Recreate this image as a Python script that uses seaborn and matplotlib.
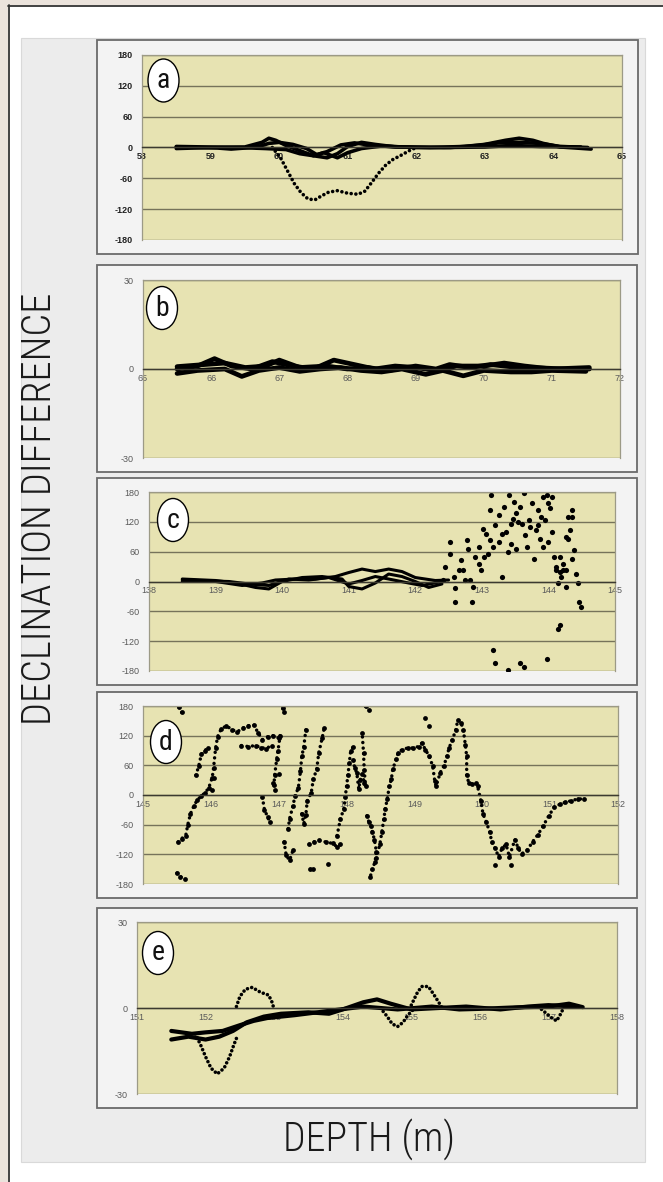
import matplotlib
matplotlib.use('Agg')
import matplotlib.pyplot as plt
import seaborn as sns
import pandas as pd
from matplotlib import font_manager
from matplotlib.patches import Rectangle, Ellipse
from matplotlib.lines import Line2D

# ---- data: (depth m, declination difference deg) ----

# panel a
a_xticks = [58, 59, 60, 61, 62, 63, 64, 65]
a_yticks = [-180, -120, -60, 0, 60, 120, 180]
a_trace1 = [(58.50, 1), (58.80, 0), (59.10, -1), (59.30, -3), (59.50, -1), (59.70, 2), (59.85, 8),
            (60.00, 10), (60.20, 6), (60.40, -2), (60.55, -14), (60.70, -8), (60.90, 5), (61.10, 9),
            (61.30, 5), (61.60, 2), (62.00, 0), (62.50, 0), (62.90, 4), (63.20, 9), (63.50, 10),
            (63.80, 8), (64.10, 2), (64.50, 0)]
a_trace2 = [(58.50, -2), (59.00, 0), (59.50, 1), (59.75, 10), (59.85, 18), (59.95, 14), (60.10, 4),
            (60.30, -6), (60.50, -16), (60.70, -20), (60.85, -12), (61.00, 2), (61.20, 10), (61.40, 6),
            (61.70, 1), (62.20, 0), (62.70, 2), (63.00, 6), (63.30, 14), (63.50, 18), (63.70, 14),
            (63.85, 8), (64.10, 1), (64.55, -3)]
a_trace3 = [(58.50, 2), (59.40, 0), (59.80, -2), (60.10, -4), (60.30, -12), (60.50, -16), (60.65, -10),
            (60.85, -20), (61.00, -10), (61.20, -2), (61.50, 3), (61.80, 1), (62.40, 0), (63.00, 1),
            (63.40, 4), (63.80, 2), (64.40, 1)]
a_dip = [(59.90, 0), (60.02, -20), (60.12, -45), (60.22, -70), (60.32, -88), (60.42, -100),
         (60.52, -102), (60.62, -94), (60.72, -87), (60.85, -84), (61.00, -89), (61.15, -91),
         (61.25, -85), (61.35, -68), (61.45, -50), (61.55, -35), (61.65, -24), (61.78, -15),
         (61.90, -6), (62.00, 0)]

# panel b
b_xticks = [65, 66, 67, 68, 69, 70, 71, 72]
b_yticks = [-30, 0, 30]
b_trace1 = [(65.50, 0), (65.80, 1), (66.05, 3.5), (66.30, 1), (66.60, 0), (66.90, 2.5), (67.20, 1),
            (67.50, 0), (67.80, 3), (68.10, 1.5), (68.40, 0), (68.70, 1), (69.00, 0.5), (69.30, -0.5),
            (69.60, 1), (70.00, 1), (70.30, 2), (70.60, 1), (71.00, 0), (71.55, 0.5)]
b_trace2 = [(65.50, -1.5), (65.80, -0.5), (66.20, 0), (66.45, -2.5), (66.70, -0.5), (67.00, 0.5),
            (67.30, -0.8), (67.60, 0), (67.90, 0.5), (68.20, -0.5), (68.50, -1), (68.80, 0),
            (69.15, -1.8), (69.40, -0.5), (69.70, -2.3), (70.00, -0.5), (70.40, -1), (70.70, -1),
            (71.00, -0.5), (71.50, -0.8)]
b_trace3 = [(65.50, 0.8), (65.90, 1.5), (66.20, 2), (66.50, 0.5), (66.80, 1), (67.00, 3), (67.30, 0.5),
            (67.70, 1), (68.00, 0), (68.30, 0.5), (68.60, -0.5), (69.00, 1), (69.30, 0), (69.50, 1.5),
            (69.80, 0.5), (70.10, 1.5), (70.50, 0.5), (70.90, 0.3), (71.20, 0), (71.55, 0)]

# panel c
c_xticks = [138, 139, 140, 141, 142, 143, 144, 145]
c_yticks = [-180, -120, -60, 0, 60, 120, 180]
c_trace1 = [(138.5, 5), (139.0, 2), (139.3, -3), (139.6, -12), (139.8, -15), (140.0, 0), (140.3, 8),
            (140.6, 10), (140.9, 5), (141.0, -10), (141.2, -15), (141.4, -3), (141.6, 15), (141.8, 10),
            (142.0, 0), (142.2, -12), (142.4, -5)]
c_trace2 = [(138.5, 0), (139.0, 0), (139.4, -8), (139.7, -3), (139.9, 3), (140.2, 5), (140.5, 5),
            (140.8, 10), (141.0, 18), (141.2, 25), (141.4, 20), (141.6, 25), (141.8, 20), (142.0, 8),
            (142.3, 2), (142.5, 3)]
c_trace3 = [(138.5, 3), (139.2, 0), (139.5, -5), (139.8, -8), (140.1, 5), (140.4, 3), (140.7, 8),
            (141.0, -5), (141.2, 2), (141.4, 10), (141.6, 5), (141.9, -3), (142.1, -8), (142.4, 0)]
c_scatter = [(142.52, 80), (142.52, 56), (142.44, 29), (142.42, 3), (142.60, -14), (142.60, -41),
             (142.66, 23), (142.68, 43), (142.77, 83), (142.79, 66), (142.82, 3), (142.85, -41),
             (142.87, -11), (142.90, 50), (142.95, 70), (142.98, 23), (143.01, 106), (143.06, 96),
             (143.09, 56), (143.14, 173), (143.12, 143), (143.17, 70), (143.20, 113), (143.25, 133),
             (143.30, 9), (143.33, 150), (143.36, 100), (143.41, 173), (143.44, 76), (143.47, 126),
             (143.49, 160), (143.52, 137), (143.55, 120), (143.57, 150), (143.60, 116), (143.63, 177),
             (143.65, 93), (143.68, 70), (143.71, 123), (143.76, 157), (143.79, 46), (143.82, 103),
             (143.84, 143), (143.87, 86), (143.92, 170), (143.95, 123), (143.98, 173), (144.00, 80),
             (144.03, 147), (144.06, 100), (144.09, 50), (144.11, 23), (144.14, -4), (144.17, -88),
             (144.14, -96), (144.19, 9), (144.22, 36), (144.27, 90), (144.30, 130), (144.35, 143),
             (144.33, 103), (144.38, 63), (144.41, 16), (144.44, -4), (144.46, -41), (144.49, -51),
             (144.35, 46), (144.27, -11), (143.17, -138), (143.20, -164), (143.39, -178),
             (143.57, -164), (143.63, -171), (143.98, -155), (143.03, 50), (142.95, 36), (142.71, 23),
             (142.74, 3), (142.58, 9), (143.12, 83), (143.25, 80), (143.39, 60), (143.52, 66),
             (143.30, 96), (143.44, 116), (143.73, 110), (143.84, 113), (143.89, 130), (143.92, 70),
             (144.00, 157), (144.06, 170), (144.11, 29), (144.17, 20), (144.22, 23), (144.27, 23),
             (144.17, 50), (144.30, 86), (144.35, 130)]

# panel d
d_xticks = [145, 146, 147, 148, 149, 150, 151, 152]
d_yticks = [-180, -120, -60, 0, 60, 120, 180]
d_seg1 = [(145.50, -158), (145.55, -165), (145.62, -170)]
d_seg2 = [(145.53, 177), (145.57, 167)]
d_seg3 = [(145.52, -95), (145.57, -88), (145.63, -82), (145.66, -60), (145.70, -38), (145.75, -22),
          (145.80, -10), (145.86, -2), (145.92, 5), (145.97, 15), (146.02, 35), (146.04, 55),
          (146.07, 95), (146.10, 118), (146.15, 133), (146.23, 140), (146.31, 132), (146.39, 128),
          (146.47, 135), (146.55, 140), (146.63, 142), (146.70, 125), (146.76, 112), (146.84, 118),
          (146.92, 120), (147.00, 115)]
d_seg4 = [(145.78, 40), (145.82, 58), (145.86, 82), (145.91, 90), (145.96, 95)]
d_seg5 = [(146.45, 100), (146.55, 98), (146.66, 100), (146.74, 96), (146.81, 94), (146.90, 100)]
d_seg6 = [(147.06, 175), (147.08, 168)]
d_seg7 = [(147.02, 120), (146.99, 90), (146.97, 72), (146.94, 40), (146.93, 20), (146.95, 10)]
d_seg8 = [(146.76, -5), (146.79, -30), (146.84, -45), (146.87, -55)]
d_seg9 = [(147.08, -95), (147.11, -122), (147.16, -132), (147.21, -112)]
d_seg10 = [(147.14, -68), (147.16, -48), (147.21, -22), (147.24, -2), (147.29, 15), (147.32, 48),
           (147.34, 78), (147.37, 98), (147.40, 132)]
d_seg11 = [(147.46, -150), (147.51, -150)]
d_seg12 = [(147.34, -38), (147.37, -58), (147.40, -40), (147.42, -12), (147.48, 5), (147.51, 32),
           (147.56, 52), (147.59, 85), (147.64, 115), (147.67, 135)]
d_seg13 = [(147.45, -100), (147.52, -95), (147.59, -92), (147.69, -95), (147.80, -98), (147.86, -105),
           (147.91, -100)]
d_seg14 = [(147.86, -82), (147.91, -48), (147.96, -28), (147.98, -5), (148.00, 18), (148.02, 40),
           (148.04, 65), (148.06, 88), (148.10, 98)]
d_seg15 = [(148.10, 70), (148.12, 55), (148.15, 45), (148.18, 12), (148.20, 30), (148.23, 42),
           (148.26, 25), (148.28, 18), (148.26, 50), (148.25, 85), (148.23, 125)]
d_seg16 = [(148.28, 179), (148.33, 172)]
d_seg17 = [(148.30, -42), (148.33, -55), (148.36, -62), (148.38, -75), (148.41, -90), (148.44, -115),
           (148.42, -135), (148.38, -150), (148.35, -165)]
d_seg18 = [(148.44, -128), (148.49, -100), (148.52, -75), (148.55, -48), (148.57, -28), (148.60, -8),
           (148.63, 18), (148.66, 32), (148.68, 52), (148.73, 72), (148.76, 85), (148.82, 92),
           (148.90, 95), (148.98, 95), (149.06, 98), (149.11, 105), (149.16, 92), (149.22, 78),
           (149.27, 58), (149.30, 28), (149.32, 18), (149.38, 45), (149.43, 58), (149.48, 78),
           (149.51, 95), (149.56, 112), (149.61, 132), (149.64, 152), (149.69, 145), (149.72, 132),
           (149.75, 102), (149.77, 78), (149.77, 40), (149.80, 25), (149.85, 22), (149.90, 25),
           (149.93, 18), (149.98, -12), (150.01, -38), (150.06, -55), (150.11, -75), (150.14, -95),
           (150.19, -108), (150.24, -125), (150.29, -108), (150.35, -100), (150.40, -125),
           (150.48, -90), (150.53, -108), (150.58, -119), (150.66, -112), (150.74, -95),
           (150.82, -80), (150.90, -62), (150.98, -42), (151.06, -25), (151.14, -19), (151.22, -15),
           (151.30, -12), (151.41, -8), (151.50, -8)]
d_single = [(149.16, 155), (149.22, 140), (150.19, -142), (150.42, -142), (147.72, -140),
            (146.04, 35), (146.02, 11), (147.00, 42), (146.92, 25)]

# panel e
e_xticks = [151, 152, 153, 154, 155, 156, 157, 158]
e_yticks = [-30, 0, 30]
e_trace1 = [(151.50, -8), (151.80, -9), (152.00, -8.5), (152.25, -8), (152.50, -6), (152.70, -4.5),
            (152.90, -3.5), (153.30, -2.5), (153.80, -1), (154.30, 0.5), (154.80, -0.5), (155.30, 0.5),
            (155.70, -0.5), (156.00, -0.3), (156.50, 0.2), (157.00, 0.5), (157.30, 1.5), (157.50, 0.3)]
e_trace2 = [(151.50, -11), (151.75, -10), (152.00, -11), (152.20, -10), (152.40, -8), (152.60, -5),
            (152.85, -3), (153.10, -2), (153.50, -1.5), (153.80, -2), (154.00, -0.5), (154.30, 2),
            (154.50, 3), (154.70, 1.5), (155.00, -0.5), (155.40, 0), (155.80, 0.5), (156.30, -0.5),
            (156.70, 0.5), (157.00, 1), (157.40, 0.5)]
e_up = [(152.45, 0.5), (152.50, 4), (152.58, 6.5), (152.68, 7.2), (152.80, 5.5), (152.92, 4.5),
        (152.97, 2), (153.00, -0.5)]
e_dip = [(151.85, -9), (151.93, -13), (152.00, -17), (152.08, -21), (152.17, -23), (152.27, -21),
         (152.35, -17), (152.41, -13), (152.46, -10)]
e_dip2 = [(154.55, 0), (154.65, -3), (154.72, -5.5), (154.80, -6.5), (154.88, -5), (154.95, -2.5),
          (155.05, 0)]
e_up2 = [(155.00, 1), (155.08, 5), (155.15, 7.5), (155.25, 7.5), (155.32, 5), (155.40, 2), (155.45, 0)]
e_dip3 = [(156.85, 0.5), (156.95, -1.5), (157.05, -3.5), (157.12, -4.5), (157.18, -2), (157.22, 0)]

# ---- drawing ----
W, H = 663, 1182
YELLOW = '#e7e3b2'
GRID = '#76735a'

sns.set_theme(style='white')
plt.rcParams['font.family'] = ['Liberation Sans', 'DejaVu Sans']
plt.rcParams['axes.unicode_minus'] = False

# pick a narrow / light face for the big titles if one is installed
names = {f.name for f in font_manager.fontManager.ttflist}
light_weights = {f.name for f in font_manager.fontManager.ttflist
                 if f.weight in (200, 300, 'light', 'extra-light')}
TITLE_FONT = 'DejaVu Sans'
for cand in ('Liberation Sans Narrow', 'Roboto Condensed', 'Open Sans Condensed', 'Lato', 'Roboto'):
    if cand in names:
        TITLE_FONT = cand
        break
TITLE_WEIGHT = 'light' if TITLE_FONT in light_weights else 'normal'

fig = plt.figure(figsize=(W / 100, H / 100), dpi=100)
fig.patch.set_facecolor('white')


def px_rect(x0, y0, x1, y1):
    return [x0 / W, 1 - y1 / H, (x1 - x0) / W, (y1 - y0) / H]


def fig_rect(x0, y0, x1, y1, **kw):
    r = Rectangle((x0 / W, 1 - y1 / H), (x1 - x0) / W, (y1 - y0) / H,
                  transform=fig.transFigure, **kw)
    fig.patches.append(r)


def to_df(pts):
    return pd.DataFrame(pts, columns=['depth', 'diff'])


def solid(ax, pts, lw=2.2):
    sns.lineplot(data=to_df(pts), x='depth', y='diff', sort=False, estimator=None, ax=ax,
                 color='black', linewidth=lw, solid_capstyle='round', solid_joinstyle='round')


def dotted(ax, pts, lw=2.6, gap=1.3):
    sns.lineplot(data=to_df(pts), x='depth', y='diff', sort=False, estimator=None, ax=ax,
                 color='black', linewidth=lw, linestyle=(0, (0.01, gap)), dash_capstyle='round')


def dots(ax, pts, s=13):
    sns.scatterplot(data=to_df(pts), x='depth', y='diff', ax=ax, color='black', s=s,
                    linewidth=0, legend=False)


def fit_text(t, target_px, along='width'):
    # scale a text so that its extent matches what the reference shows
    r = fig.canvas.get_renderer()
    bb = t.get_window_extent(renderer=r)
    size = bb.width if along == 'width' else bb.height
    t.set_fontsize(t.get_fontsize() * target_px / size)


# page background, frame and grey panel
fig_rect(0, 0, 8, H, facecolor='#ebe3dc', edgecolor='none', zorder=-5)
fig_rect(0, 0, W, 5, facecolor='#ebe3dc', edgecolor='none', zorder=-5)
fig.lines.append(Line2D([8.5 / W, 8.5 / W], [0, 1 - 5 / H], transform=fig.transFigure,
                        color='#333333', lw=1.3, zorder=-4))
fig.lines.append(Line2D([8 / W, 1], [1 - 5.5 / H, 1 - 5.5 / H], transform=fig.transFigure,
                        color='#333333', lw=1.3, zorder=-4))
fig_rect(21, 38, 645, 1162, facecolor='#ececec', edgecolor='#d9d9d9', lw=0.8, zorder=-4)

panels = [
    # box, yellow area, label centre, letter, xticks, yticks, bold labels
    ((97, 40, 638, 254), (142, 55, 622, 240), (163.5, 80.5), 'a', a_xticks, a_yticks, True),
    ((97, 265, 637, 472), (143, 280, 620, 458), (162, 308), 'b', b_xticks, b_yticks, False),
    ((97, 478, 637, 685), (149, 492, 615, 671), (173, 520), 'c', c_xticks, c_yticks, False),
    ((97, 692, 637, 898), (143, 706, 618, 884), (166, 742), 'd', d_xticks, d_yticks, False),
    ((97, 908, 637, 1108), (137, 922, 617, 1094), (158, 953), 'e', e_xticks, e_yticks, False),
]

axes = []
for box, area, lab, letter, xt, yt, bold in panels:
    fig_rect(*box, facecolor='#f3f3f3', edgecolor='#6a6a6a', lw=1.3, zorder=-3)
    ax = fig.add_axes(px_rect(*area))
    axes.append(ax)

ax_a, ax_b, ax_c, ax_d, ax_e = axes

for tr in (a_trace1, a_trace2, a_trace3):
    solid(ax_a, tr, lw=2.6)
dotted(ax_a, a_dip)

for tr in (b_trace1, b_trace2, b_trace3):
    solid(ax_b, tr, lw=3.4)

for tr in (c_trace1, c_trace2, c_trace3):
    solid(ax_c, tr, lw=2.2)
dots(ax_c, c_scatter, s=14)

for seg in (d_seg1, d_seg2, d_seg3, d_seg4, d_seg5, d_seg6, d_seg7, d_seg8, d_seg9, d_seg10,
            d_seg11, d_seg12, d_seg13, d_seg14, d_seg15, d_seg16, d_seg17, d_seg18):
    dotted(ax_d, seg, lw=2.5, gap=1.6)
    dots(ax_d, seg, s=12)
dots(ax_d, d_single, s=12)

for tr in (e_trace1, e_trace2):
    solid(ax_e, tr, lw=3.0)
for tr in (e_up, e_dip, e_dip2, e_up2, e_dip3):
    dotted(ax_e, tr, lw=2.6, gap=1.2)

for ax, (box, area, lab, letter, xt, yt, bold) in zip(axes, panels):
    ax.set_facecolor(YELLOW)
    ax.set_xlim(xt[0], xt[-1])
    ax.set_ylim(yt[0], yt[-1])
    ax.set_xticks(xt)
    ax.set_yticks(yt)
    ax.set_xlabel('')
    ax.set_ylabel('')
    ax.set_axisbelow(True)
    ax.grid(axis='y', color=GRID, lw=1.0)
    ax.grid(axis='x', visible=False)
    for side in ('left', 'right', 'top'):
        ax.spines[side].set_color('#9c9a86')
        ax.spines[side].set_linewidth(0.9)
    ax.spines['bottom'].set_position(('data', 0))
    ax.spines['bottom'].set_color('#3c3a30')
    ax.spines['bottom'].set_linewidth(1.0)
    lab_color = '#222222' if bold else '#5a5a5a'
    weight = 'bold' if bold else 'normal'
    ax.tick_params(axis='y', direction='out', length=4, width=0.8, color='#777777', pad=3,
                   labelsize=6.5, labelcolor=lab_color)
    ax.tick_params(axis='x', direction='inout', length=3, width=0.8, color='#555555', pad=2,
                   labelsize=6.5, labelcolor=lab_color)
    for t in ax.get_xticklabels() + ax.get_yticklabels():
        t.set_fontweight(weight)

    # panel letter in a white oval
    cx, cy = lab
    fig.patches.append(Ellipse((cx / W, 1 - cy / H), 31 / W, 43 / H, transform=fig.transFigure,
                               facecolor='white', edgecolor='black', lw=1.0, zorder=5))
    fig.text(cx / W, 1 - cy / H, letter, ha='center', va='center', fontsize=20,
             family=[TITLE_FONT, 'DejaVu Sans'], color='#111111', zorder=6)

ylab = fig.text(40 / W, 1 - 509 / H, 'DECLINATION DIFFERENCE', rotation=90, ha='center',
                va='center', fontsize=28, family=[TITLE_FONT, 'DejaVu Sans'],
                fontweight=TITLE_WEIGHT, color='#1a1a1a')
fit_text(ylab, 432, along='height')
xlab = fig.text(369 / W, 1 - 1139 / H, 'DEPTH (m)', ha='center', va='center', fontsize=27,
                family=[TITLE_FONT, 'DejaVu Sans'], fontweight=TITLE_WEIGHT, color='#1a1a1a')
fit_text(xlab, 172, along='width')

fig.savefig('out.png', dpi=100)
